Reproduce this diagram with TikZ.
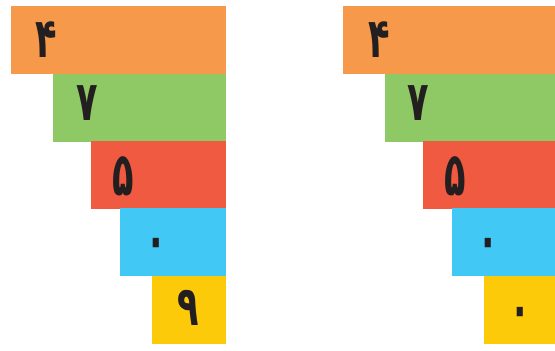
\documentclass[tikz,border=0pt]{standalone}
\usepackage{graphicx}
\usepackage{fontspec}
\newfontfamily\arabicfont[Script=Arabic]{DejaVu Sans}
\TeXXeTstate=1
\definecolor{cOrange}{HTML}{F7994A}
\definecolor{cGreen}{HTML}{8FC965}
\definecolor{cRed}{HTML}{F05A40}
\definecolor{cBlue}{HTML}{42C8F4}
\definecolor{cYellow}{HTML}{FDCA0A}
\definecolor{cInk}{HTML}{231F20}
\newcommand{\pdigit}[2][1]{\scalebox{0.64}[#1]{\arabicfont\bfseries\fontsize{55}{55}\selectfont\beginR #2\endR}}
\tikzset{
  bar/.style={draw=none, inner sep=0pt, outer sep=0pt, anchor=north west, minimum height=68pt},
  digit/.style={text=cInk, inner sep=0pt, anchor=base}
}
\begin{document}
\begin{tikzpicture}[x=1pt,y=-1pt]
\useasboundingbox (0,0) rectangle (555,351);
% left stair
\node[bar, fill=cOrange, minimum width=215pt] (La) at (11,6) {};
\node[bar, fill=cGreen, minimum width=173pt] (Lb) at (53,74) {};
\node[bar, fill=cRed, minimum width=135pt] (Lc) at (91,141) {};
\node[bar, fill=cBlue, minimum width=106pt] (Ld) at (120,208) {};
\node[bar, fill=cYellow, minimum width=74pt] (Le) at (152,276) {};
% right stair
\node[bar, fill=cOrange, minimum width=212pt] (Ra) at (343,6) {};
\node[bar, fill=cGreen, minimum width=170pt] (Rb) at (385,74) {};
\node[bar, fill=cRed, minimum width=132pt] (Rc) at (423,141) {};
\node[bar, fill=cBlue, minimum width=103pt] (Rd) at (452,208) {};
\node[bar, fill=cYellow, minimum width=71pt] (Re) at (484,276) {};
% digits left
\node[digit] (dLa) at (46,57) {\pdigit{۴}};
\node[digit] (dLb) at (87,120) {\pdigit{۷}};
\node[digit] (dLc) at (123,195) {\pdigit[1.1]{۵}};
\node[digit] (dLd) at (156,258) {\pdigit{۰}};
\node[digit] (dLe) at (188,325) {\pdigit{۹}};
% digits right
\node[digit] (dRa) at (379,57) {\pdigit{۴}};
\node[digit] (dRb) at (418,120) {\pdigit{۷}};
\node[digit] (dRc) at (455,195) {\pdigit[1.1]{۵}};
\node[digit] (dRd) at (488,258) {\pdigit{۰}};
\node[digit] (dRe) at (520,327) {\pdigit{۰}};
\end{tikzpicture}
\end{document}
